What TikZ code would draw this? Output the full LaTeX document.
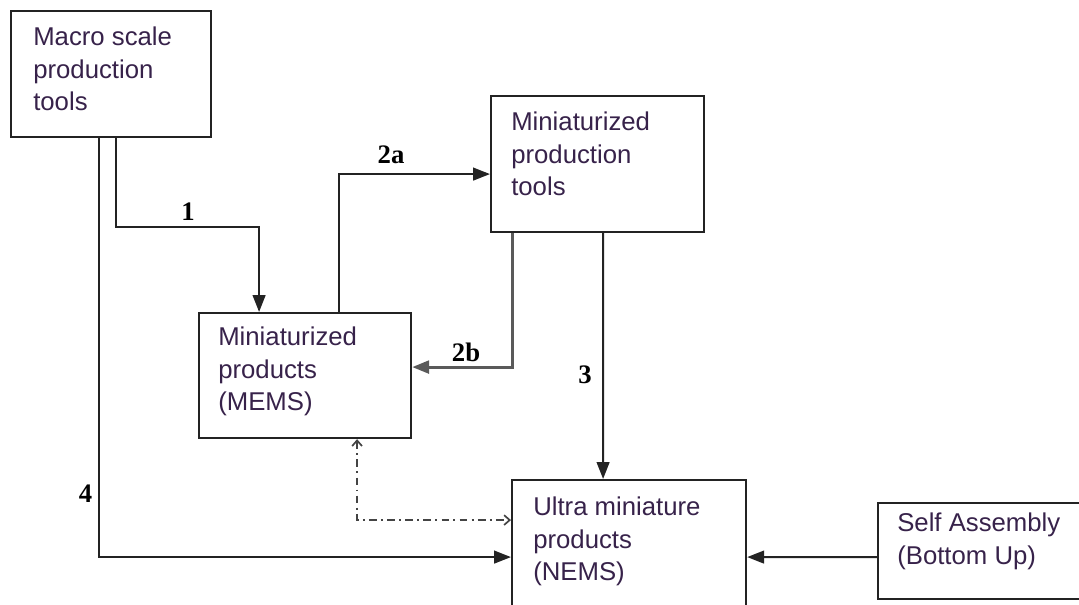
\documentclass[tikz,border=0pt]{standalone}
\usepackage{fontspec}
\setmainfont{Liberation Serif}
\setsansfont{Liberation Sans}
\usetikzlibrary{arrows.meta, calc, positioning}
\definecolor{framegray}{RGB}{35,35,35}
\definecolor{labelplum}{RGB}{55,34,74}
\definecolor{routegray}{RGB}{90,90,90}

\begin{document}
\begin{tikzpicture}[x=0.025cm, y=-0.025cm,
    box/.style={draw=framegray, line width=1.5pt, anchor=north west, inner sep=0pt},
    boxtext/.style={anchor=north west, inner sep=0pt, align=left, text=labelplum,
      font=\sffamily\fontsize{18.3}{23}\selectfont},
    flow/.style={draw=framegray, line width=1.5pt, -{Triangle[length=12pt, width=9pt]}},
    stepno/.style={font=\fontsize{19}{19}\selectfont\bfseries, inner sep=0pt}]
        \useasboundingbox (0,0) rectangle (1079,605);
        \clip (0,0) rectangle (1079,605);

        % Boxes
        \node[box, minimum width=5cm, minimum height=3.15cm] (macro) at (10,10) {};
        \node[boxtext] (macrotext) at ([shift={(23,17)}]macro.north west) {Macro scale\\production\\tools};

        \node[box, minimum width=5.325cm, minimum height=3.4cm] (tools) at (490,95) {};
        \node[boxtext] (toolstext) at ([shift={(21,17)}]tools.north west) {Miniaturized\\production\\tools};

        \node[box, minimum width=5.3cm, minimum height=3.125cm] (mems) at (198,312) {};
        \node[boxtext] (memstext) at ([shift={(20,15)}]mems.north west) {Miniaturized\\products\\(MEMS)};

        \node[box, minimum width=5.85cm, minimum height=3.85cm] (nems) at (511,479) {};
        \node[boxtext] (nemstext) at ([shift={(22,18)}]nems.north west) {Ultra miniature\\products\\(NEMS)};

        \node[box, minimum width=5.5cm, minimum height=2.4cm] (self) at (877,502) {};
        \node[boxtext] (selftext) at ([shift={(20,11)}]self.north west) {Self Assembly\\(Bottom Up)};

        % Routes
        \draw[flow] ($(macro.south)+(5,0)$) -- ++(0,89) -| ($(mems.north)+(-46,0)$);
        \draw[flow] ($(macro.south)+(-12,0)$) |- (nems.west);
        \draw[flow] ($(mems.north)+(34,0)$) |- ($(tools.west)+(0,10)$);
        \draw[flow, draw=routegray, line width=2.2pt] ($(tools.south)+(-85.5,0)$) |- ($(mems.east)+(0,-8.5)$);
        \draw[flow] ($(tools.south)+(5.5,0)$) -- ($(nems.north)+(-26,0)$);
        \draw[flow] ($(self.west)+(0,6)$) -- (nems.east);
        \draw[framegray!85, line width=1.2pt, dash pattern=on 5.5pt off 3pt on 1.4pt off 3pt,
          {Straight Barb[length=4pt, width=7pt]}-{Straight Barb[length=4pt, width=7pt]}]
          ($(mems.south)+(52,0)$) |- ($(nems.west)+(0,-37)$);

        % Step numbers
        \node[stepno] (one) at (188,212) {1};
        \node[stepno] (twoa) at (391,155) {2a};
        \node[stepno] (twob) at (466,352) {2b};
        \node[stepno] (three) at (585,375) {3};
        \node[stepno] (four) at (85.5,494) {4};
\end{tikzpicture}
\end{document}
